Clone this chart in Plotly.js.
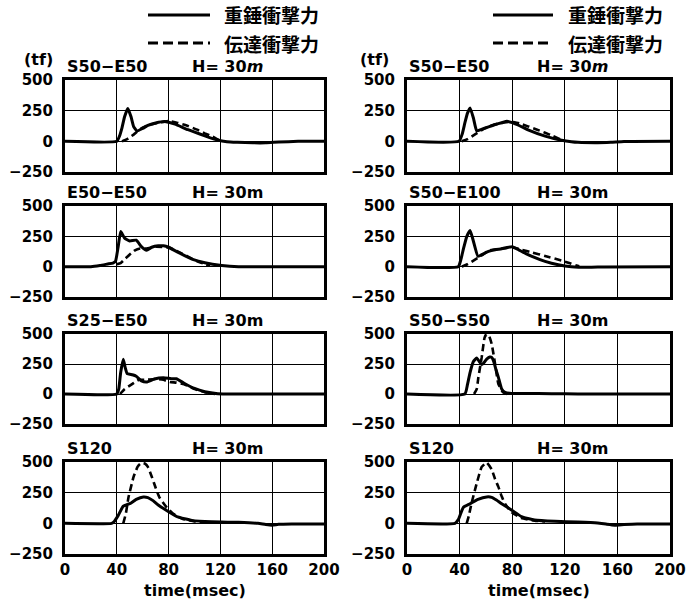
<!DOCTYPE html>
<html>
<head>
<meta charset="utf-8">
<script src="https://cdn.plot.ly/plotly-3.0.1.min.js"></script>
<style>html,body{margin:0;padding:0;background:#fff}#chart{width:697px;height:603px}</style>
</head>
<body>
<div id="chart"></div>
<script>
// ---- panel titles ----
const panelLabels = ["S50−E50", "E50−E50", "S25−E50", "S120", "S50−E50", "S50−E100", "S50−S50", "S120"];
const heightLabels = ["H= 30<i>m</i>", "H= 30m", "H= 30m", "H= 30m", "H= 30<i>m</i>", "H= 30m", "H= 30m", "H= 30m"];
const legendNames = ["重錘衝撃力", "伝達衝撃力"];
const xTitle = "time(msec)";
const yUnit = "(tf)";
const xTicks = [0, 40, 80, 120, 160, 200];
const yTicks = [-250, 0, 250, 500];
const yTickText = ["−250", "0", "250", "500"];

// ---- left column ----
// S50-E50
const tL1s = [0, 40, 42, 44, 46, 48.5, 51, 53, 55.5, 60, 64, 70, 77, 80, 85, 95, 108, 118, 125, 133, 145, 155, 165, 180, 200];
const vL1s = [0, 0, 40, 110, 200, 268, 200, 120, 85, 105, 130, 150, 162, 155, 140, 95, 45, 10, -3, -8, -12, -12, -6, 0, 0];
const tL1d = [44, 48, 53, 59, 65, 72, 80, 87, 95, 102, 108, 114, 118, 121];
const vL1d = [0, 18, 55, 105, 135, 152, 165, 150, 125, 95, 65, 38, 15, 2];
// E50-E50
const tL2s = [0, 20, 27, 33, 37, 39, 41, 43, 46, 50, 55, 59, 63, 67, 72, 76, 80, 87, 98, 108, 121, 134, 200];
const vL2s = [0, 0, 10, 22, 30, 45, 160, 290, 235, 212, 218, 165, 135, 160, 172, 172, 160, 120, 62, 32, 10, 0, 0];
const tL2d = [40, 43, 46, 50, 54, 58, 63, 70, 80, 90, 100, 107, 112];
const vL2d = [20, 30, 60, 100, 135, 150, 150, 165, 158, 110, 55, 25, 8];
// S25-E50
const tL3s = [0, 40, 41.5, 43, 45, 46.5, 48, 52, 55, 59, 63, 69, 76, 82, 86, 92, 100, 108, 118, 130, 200];
const vL3s = [0, 0, 40, 180, 290, 220, 170, 160, 148, 110, 100, 125, 135, 128, 127, 90, 46, 19, 3, 0, 0];
const tL3d = [42.5, 46, 51.5, 57, 62, 70, 76, 81, 86, 92, 100, 108, 116];
const vL3d = [0, 40, 80, 118, 118, 125, 118, 100, 95, 82, 42, 15, 0];
// S120
const tL4s = [0, 36, 38, 41, 45, 50, 55, 60.5, 64, 68, 72, 80, 87, 98, 113, 134, 149, 155, 160, 165, 175, 190, 200];
const vL4s = [0, 0, 15, 63, 140, 160, 195, 215, 210, 185, 150, 95, 52, 24, 12, 8, 0, -10, -15, -8, -5, -5, -5];
const tL4d = [45, 47, 49, 53, 56, 58, 60.5, 62, 64, 67, 70, 73, 78.5, 83.6, 91, 100, 110];
const vL4d = [0, 80, 210, 380, 460, 485, 490, 485, 460, 380, 290, 210, 130, 77, 36, 16, 10];

// ---- right column ----
// S50-E50
const tR1s = [0, 39.5, 42, 44, 46, 48, 50.5, 53, 57, 62, 67, 72, 76, 80, 86, 92, 105, 117.6, 125, 130, 145, 155, 165, 200];
const vR1s = [0, 0, 60, 150, 230, 272, 190, 85, 100, 118, 136, 152, 163, 152, 125, 94, 43, 9, -3, -8, -11, -8, -2, 0];
const tR1d = [41.6, 46, 51.7, 59, 65, 72, 80, 86, 92, 99, 105, 111, 115, 119];
const vR1d = [0, 18, 57, 105, 132, 150, 160, 145, 122, 95, 70, 43, 23, 5];
// S50-E100
const tR2s = [0, 39, 41, 43, 45.5, 48, 50.5, 54, 58, 62, 67, 72, 76, 80, 84.7, 90, 95, 105, 115, 125, 138, 150, 200];
const vR2s = [0, 0, 60, 150, 250, 298, 210, 85, 105, 126, 140, 148, 158, 165, 140, 110, 85, 44, 16, 0, -5, -2, 0];
const tR2d = [41.6, 46, 51.7, 57, 62, 70, 80, 87, 95, 105, 117.6, 124, 128, 131];
const vR2d = [0, 20, 58, 95, 132, 145, 160, 140, 118, 88, 50, 28, 12, 4];
// S50-S50
const tR3s = [0, 44, 46, 48, 50.5, 53, 55, 56.8, 58.5, 60.6, 63, 64.4, 66, 67.5, 69.5, 72, 74.5, 79.6, 90, 110, 130, 200];
const vR3s = [0, 0, 80, 180, 270, 300, 270, 245, 260, 290, 308, 305, 270, 210, 139, 42, 14, 4, 5, 3, 0, 0];
const tR3d = [51, 53, 54.3, 56.8, 59, 60.6, 62.5, 64.4, 67, 69.5, 73, 76];
const vR3d = [0, 40, 139, 305, 470, 500, 480, 417, 250, 83, 14, 0];
// S120
const tR4s = [0, 36.5, 39, 42.8, 48, 54, 60.6, 64.4, 68, 72, 80, 87, 97, 112.5, 130, 145, 152, 158, 165, 175, 190, 200];
const vR4s = [0, 0, 30, 130, 160, 195, 215, 212, 190, 160, 105, 55, 27, 16, 11, 3, -8, -15, -10, -5, -5, -5];
const tR4d = [45.4, 47, 49, 53, 56.8, 60.6, 64.4, 67, 69.5, 72, 74.5, 79.6, 87, 97, 105];
const vR4d = [0, 60, 160, 325, 460, 495, 440, 360, 297, 220, 160, 90, 44, 22, 15];

const series = [
  [tL1s, vL1s, tL1d, vL1d], [tL2s, vL2s, tL2d, vL2d], [tL3s, vL3s, tL3d, vL3d], [tL4s, vL4s, tL4d, vL4d],
  [tR1s, vR1s, tR1d, vR1d], [tR2s, vR2s, tR2d, vR2d], [tR3s, vR3s, tR3d, vR3d], [tR4s, vR4s, tR4d, vR4d]
];

const W = 697, H = 603;
const colPx = [[65, 324], [407, 670]];
const rowPx = [[80, 172], [206, 297], [334, 424], [462, 554]];
const hPx = [190, 535];
const latin = "DejaVu Sans, Liberation Sans, Arial, sans-serif";
const cjk = "Noto Sans CJK JP, Noto Sans CJK SC, sans-serif";

const traces = [];
const layout = {
  width: W, height: H,
  margin: {l: 0, r: 0, t: 0, b: 0},
  paper_bgcolor: "#fff", plot_bgcolor: "#fff",
  showlegend: false,
  font: {family: latin, color: "#000"},
  annotations: [], shapes: []
};

for (let i = 0; i < 8; i++) {
  const col = Math.floor(i / 4), row = i % 4;
  const n = i + 1;
  const xa = "x" + (n === 1 ? "" : n), ya = "y" + (n === 1 ? "" : n);
  const xk = "xaxis" + (n === 1 ? "" : n), yk = "yaxis" + (n === 1 ? "" : n);
  const [ts, vs, td, vd] = series[i];
  traces.push({x: ts, y: vs, xaxis: xa, yaxis: ya, mode: "lines", name: legendNames[0],
    line: {color: "#000", width: 3, shape: "spline", smoothing: 0.4}, hoverinfo: "skip"});
  traces.push({x: td, y: vd, xaxis: xa, yaxis: ya, mode: "lines", name: legendNames[1],
    line: {color: "#000", width: 2.6, dash: "7px,4px", shape: "spline", smoothing: 0.4}, hoverinfo: "skip"});
  const xd = [colPx[col][0] / W, colPx[col][1] / W];
  const yd = [1 - rowPx[row][1] / H, 1 - rowPx[row][0] / H];
  const bottom = row === 3;
  layout[xk] = {
    domain: xd, anchor: ya, range: [0, 200], tickvals: xTicks, ticktext: xTicks.map(String),
    showticklabels: bottom, showgrid: true, gridcolor: "#000", gridwidth: 1,
    showline: true, mirror: true, linecolor: "#000", linewidth: 3, zeroline: false, ticks: "",
    tickfont: {family: latin, size: 15, weight: "bold", color: "#000"},
    fixedrange: true
  };
  layout[yk] = {
    domain: yd, anchor: xa, range: [-250, 500], tickvals: yTicks, ticktext: yTickText,
    showgrid: true, gridcolor: "#000", gridwidth: 1,
    showline: true, mirror: true, linecolor: "#000", linewidth: 3, zeroline: false, ticks: "",
    ticklabelstandoff: 6,
    tickfont: {family: latin, size: 15, weight: "bold", color: "#000"},
    fixedrange: true
  };
  layout.annotations.push({xref: "paper", yref: "paper", x: xd[0], y: yd[1], xanchor: "left", yanchor: "bottom",
    yshift: 2, showarrow: false, text: panelLabels[i], font: {family: latin, size: 16, weight: "bold", color: "#000"}});
  layout.annotations.push({xref: "paper", yref: "paper", x: hPx[col] / W, y: yd[1], xanchor: "left", yanchor: "bottom",
    yshift: 2, showarrow: false, text: heightLabels[i], font: {family: latin, size: 16, weight: "bold", color: "#000"}});
  if (bottom) {
    layout.annotations.push({xref: "paper", yref: "paper", x: (xd[0] + xd[1]) / 2, y: 1 - 590 / H, xanchor: "center", yanchor: "middle",
      showarrow: false, text: xTitle, font: {family: latin, size: 16, weight: "bold", color: "#000"}});
  }
}

// unit labels
[[38, 60], [374, 60]].forEach(p => {
  layout.annotations.push({xref: "paper", yref: "paper", x: p[0] / W, y: 1 - p[1] / H, xanchor: "center", yanchor: "middle",
    showarrow: false, text: yUnit, font: {family: latin, size: 16, weight: "bold", color: "#000"}});
});

// legend keys
const legendPx = [[148, 210, 222], [493, 553, 566]];
legendPx.forEach(l => {
  [[15, "solid", 0], [43, "dash", 1]].forEach(([py, dash, k]) => {
    layout.shapes.push({type: "line", xref: "paper", yref: "paper", x0: l[0] / W, x1: l[1] / W, y0: 1 - py / H, y1: 1 - py / H,
      line: {color: "#000", width: 3, dash: dash === "solid" ? "solid" : "10px,5px"}});
    layout.annotations.push({xref: "paper", yref: "paper", x: l[2] / W, y: 1 - py / H, xanchor: "left", yanchor: "middle",
      showarrow: false, text: legendNames[k], font: {family: cjk, size: 19, weight: "bold", color: "#000"}});
  });
});

Plotly.newPlot("chart", traces, layout, {staticPlot: true, displayModeBar: false});
</script>
</body>
</html>
